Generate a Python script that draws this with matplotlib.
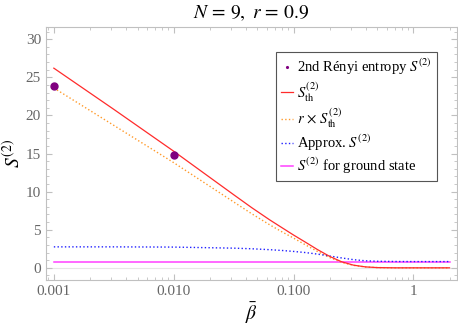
import matplotlib
matplotlib.use('Agg')
import matplotlib.pyplot as plt
from matplotlib.ticker import LogLocator, FixedLocator, MultipleLocator

plt.rcParams['font.family'] = ['Liberation Serif', 'DejaVu Serif']
plt.rcParams['mathtext.fontset'] = 'stix'

# beta grid and curve values
beta = [0.001, 0.00316, 0.01, 0.0316, 0.0447, 0.0631, 0.0794, 0.1, 0.126, 0.158,
        0.2, 0.251, 0.316, 0.398, 0.5, 0.708, 1.0, 2.0]
s_th = [26.2, 20.8, 15.3, 9.6, 7.9, 6.3, 5.3, 4.3, 3.35, 2.4,
        1.5, 0.8, 0.35, 0.12, 0.03, 0.0, 0.0, 0.0]
r_s_th = [23.6, 18.7, 13.8, 8.65, 7.1, 5.65, 4.75, 3.9, 3.0, 2.15,
          1.35, 0.72, 0.32, 0.11, 0.03, 0.0, 0.0, 0.0]
approx = [2.75, 2.75, 2.72, 2.58, 2.5, 2.38, 2.28, 2.15, 2.0, 1.8,
          1.55, 1.3, 1.07, 0.92, 0.86, 0.83, 0.82, 0.82]
ground = [0.8] * len(beta)

# numerical points
beta_pts = [0.001, 0.01]
s2_pts = [23.9, 14.8]

fig = plt.figure(figsize=(4.58, 3.27), dpi=100)
ax = fig.add_axes([0.1004, 0.1437, 0.897, 0.7737])

ax.axhline(0, color='#e6e6e6', lw=0.8, zorder=0)
ax.plot(beta_pts, s2_pts, 'o', color='#800080', ms=5, zorder=5,
        label=r'2nd Rényi entropy $S^{(2)}$')
ax.plot(beta, s_th, '-', color='#ff2b2b', lw=0.9, label=r'$S^{(2)}_{\mathrm{th}}$', zorder=4)
ax.plot(beta, r_s_th, ':', color='#ff9a2a', lw=1.0,
        label=r'$r\,\times\,S^{(2)}_{\mathrm{th}}$', zorder=3)
ax.plot(beta, approx, ':', color='#2020ff', lw=1.0, label=r'Approx. $S^{(2)}$', zorder=3)
ax.plot(beta, ground, '-', color='#ff40ff', lw=1.1, label=r'$S^{(2)}$ for ground state', zorder=2)

ax.set_xscale('log')
ax.set_xlim(0.00086, 2.3)
ax.set_ylim(-1.6, 31.6)
ax.xaxis.set_major_locator(FixedLocator([0.001, 0.01, 0.1, 1]))
ax.set_xticklabels(['0.001', '0.010', '0.100', '1'])
ax.xaxis.set_minor_locator(LogLocator(base=10, subs=range(2, 10)))
ax.xaxis.set_minor_formatter(plt.NullFormatter())
ax.yaxis.set_major_locator(MultipleLocator(5))
ax.yaxis.set_minor_locator(MultipleLocator(1))

for s in ax.spines.values():
    s.set_color('#c0c0c0')
    s.set_linewidth(0.8)
ax.tick_params(which='both', direction='in', top=True, right=True, color='#c0c0c0',
               labelcolor='#666666', labelsize=11)
ax.tick_params(which='major', length=4)
ax.tick_params(which='minor', length=2)

ax.set_title(r'$N\,=\,9,\ r\,=\,0.9$', fontsize=14, pad=6)
ax.set_xlabel(r'$\bar{\beta}$', fontsize=14, labelpad=2)
ax.set_ylabel(r'$S^{(2)}$', fontsize=14, labelpad=2)

leg = ax.legend(loc='upper left', bbox_to_anchor=(0.5596, 0.901), borderaxespad=0,
                fontsize=10.5, handlelength=0.8, handletextpad=0.3, markerscale=0.25,
                fancybox=False, framealpha=1, edgecolor='#555555',
                borderpad=0.35, labelspacing=0.2)
leg.get_frame().set_linewidth(0.8)

fig.savefig('out.png', dpi=100)
